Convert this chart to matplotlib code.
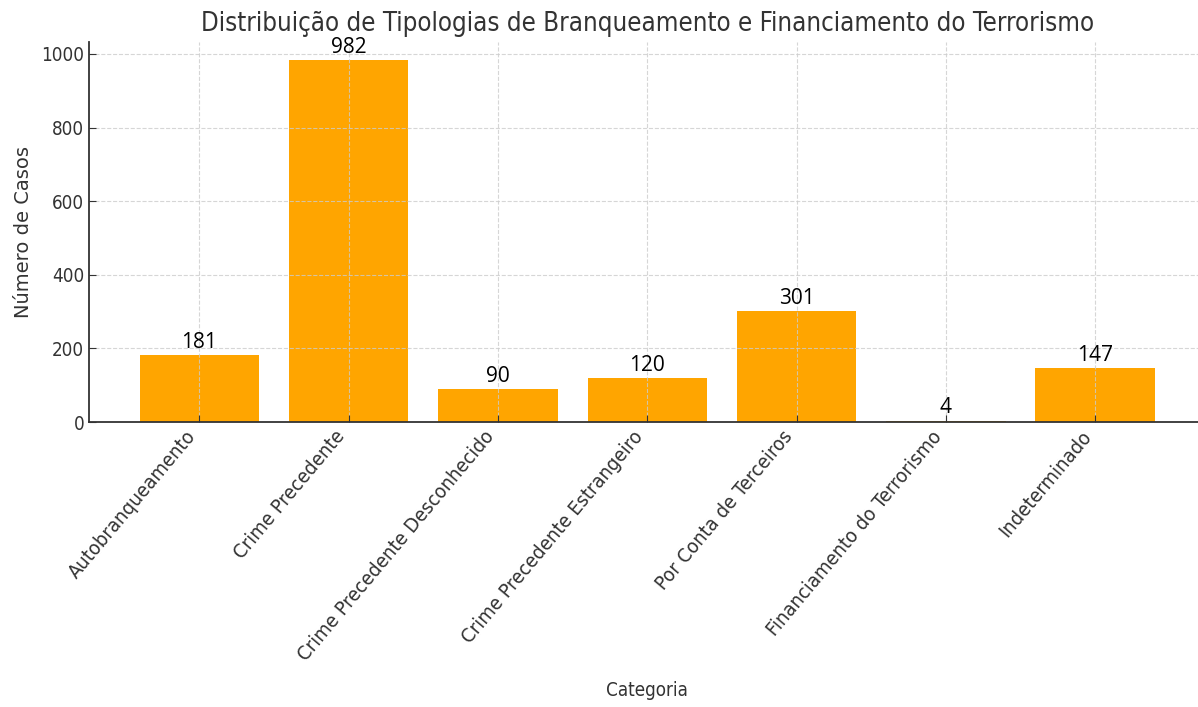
import matplotlib.pyplot as plt

categorias = ['Autobranqueamento', 'Crime Precedente', 'Crime Precedente Desconhecido',
              'Crime Precedente Estrangeiro', 'Por Conta de Terceiros',
              'Financiamento do Terrorismo', 'Indeterminado']
casos = [181, 982, 90, 120, 301, 4, 147]

plt.rcParams['font.family'] = 'DejaVu Sans'
plt.rcParams['font.stretch'] = 'condensed'

fig = plt.figure(figsize=(11.98, 7.07), dpi=100)
ax = fig.add_axes([0.0743, 0.403, 0.932, 0.537])

barras = ax.bar(categorias, casos, color='orange', width=0.8)

# rótulos de valor
for b, v in zip(barras, casos):
    ax.text(b.get_x() + b.get_width() / 2, v + 6, str(v), ha='center', va='bottom',
            fontsize=15, family='Open Sans', fontstretch='normal', color='black')

ax.set_title('Distribuição de Tipologias de Branqueamento e Financiamento do Terrorismo',
             fontsize=18.5, color='#333333', pad=8)
ax.set_xlabel('Categoria', fontsize=13.5, color='#333333', labelpad=12)
ax.set_ylabel('Número de Casos', fontsize=14, color='#333333', labelpad=6,
              fontstretch='normal')

ax.grid(True, linestyle='--', color='#cccccc', linewidth=0.8, alpha=0.8)
for s in ['top', 'right']:
    ax.spines[s].set_visible(False)
for s in ['left', 'bottom']:
    ax.spines[s].set_color('#333333')
    ax.spines[s].set_linewidth(1.3)

ax.tick_params(direction='in', length=5, colors='#333333', labelsize=14)
ax.tick_params(axis='y', labelsize=13.5)
plt.setp(ax.get_xticklabels(), rotation=50, ha='right', fontsize=14.5)

fig.savefig('out.png', dpi=100)
